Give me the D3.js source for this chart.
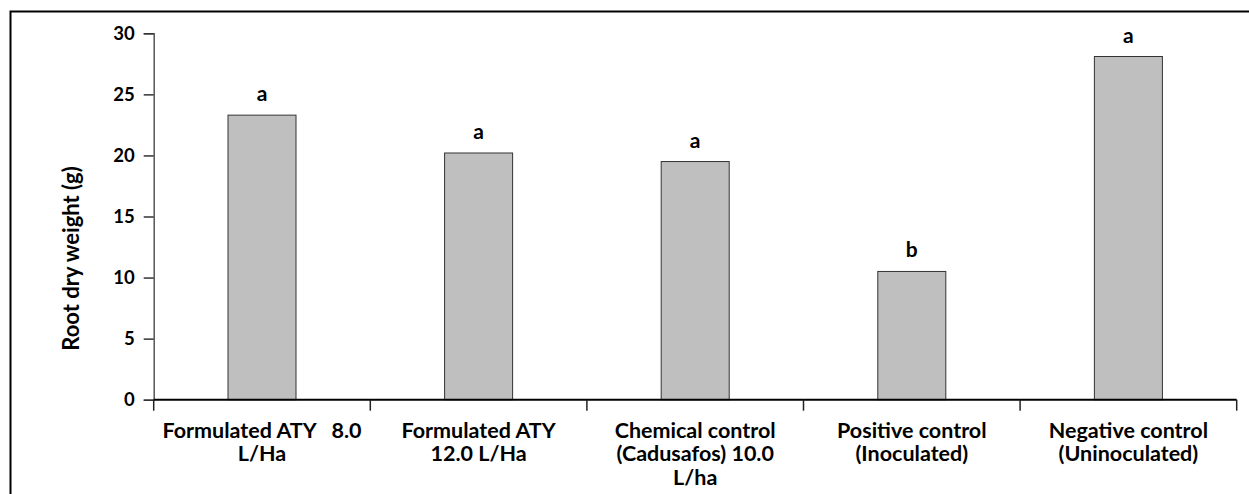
<!DOCTYPE html>
<html>
<head>
<meta charset="utf-8">
<script src="https://cdn.jsdelivr.net/npm/d3@7"></script>
<style>
  body { margin: 0; background: #fff; }
  svg text { font-family: Lato, "Open Sans", sans-serif; font-weight: bold; fill: #000; }
</style>
</head>
<body>
<svg id="chart" width="1249" height="494"></svg>
<script>
// treatments (each label split in lines)
const categories = [
  ["Formulated ATY   8.0", "L/Ha"],
  ["Formulated ATY", "12.0 L/Ha"],
  ["Chemical control", "(Cadusafos) 10.0", "L/ha"],
  ["Positive control", "(Inoculated)"],
  ["Negative control", "(Uninoculated)"]
];
const values = [23.3, 20.2, 19.5, 10.5, 28.1];
const letters = ["a", "a", "a", "b", "a"];
const yTicks = [0, 5, 10, 15, 20, 25, 30];

const svg = d3.select("#chart");

// outer frame (right and bottom sides fall outside the picture)
svg.append("rect")
  .attr("x", 10.5).attr("y", 11.5)
  .attr("width", 1260).attr("height", 500)
  .attr("fill", "none").attr("stroke", "#000").attr("stroke-width", 2);

const plotL = 153.7, plotR = 1236.7, plotT = 33.3, plotB = 399.7;

const x = d3.scaleBand().domain(d3.range(categories.length)).range([plotL, plotR]).paddingInner(0).paddingOuter(0);
const y = d3.scaleLinear().domain([0, 30]).range([plotB, plotT]);

// bars
const barW = x.bandwidth() * 0.314;
svg.selectAll("rect.bar")
  .data(values)
  .enter().append("rect")
  .attr("class", "bar")
  .attr("x", (d, i) => x(i) + x.bandwidth() / 2 - barW / 2)
  .attr("y", d => y(d))
  .attr("width", barW)
  .attr("height", d => y(0) - y(d))
  .attr("fill", "#bfbfbf")
  .attr("stroke", "#333")
  .attr("stroke-width", 1);

// significance letters
svg.selectAll("text.letter")
  .data(values)
  .enter().append("text")
  .attr("class", "letter")
  .attr("x", (d, i) => x(i) + x.bandwidth() / 2)
  .attr("y", d => y(d) - 14)
  .attr("text-anchor", "middle")
  .style("font-size", "21px")
  .text((d, i) => letters[i]);

// y axis
const yAxis = svg.append("g")
  .attr("transform", `translate(${plotL},0)`)
  .call(d3.axisLeft(y).tickValues(yTicks).tickSize(10).tickPadding(9));
yAxis.select(".domain").attr("stroke", "#555").attr("stroke-width", 1.5);
yAxis.selectAll(".tick line").attr("stroke", "#333").attr("stroke-width", 1.5);
yAxis.selectAll(".tick text")
  .style("font-family", "Lato, sans-serif").style("font-size", "18.5px").style("font-weight", "bold");

// x axis: baseline with ticks at band edges
svg.append("line")
  .attr("x1", plotL).attr("x2", plotR)
  .attr("y1", plotB).attr("y2", plotB)
  .attr("stroke", "#000").attr("stroke-width", 2);
const edges = d3.range(categories.length + 1).map(i => i < categories.length ? x(i) : plotR);
svg.selectAll("line.xtick")
  .data(edges)
  .enter().append("line")
  .attr("class", "xtick")
  .attr("x1", d => d).attr("x2", d => d)
  .attr("y1", plotB).attr("y2", plotB + 11)
  .attr("stroke", "#222").attr("stroke-width", 1.5);

// category labels
categories.forEach((lines, i) => {
  const t = svg.append("text")
    .attr("x", x(i) + x.bandwidth() / 2)
    .attr("y", 437.5)
    .attr("text-anchor", "middle")
    .style("font-size", "21.5px")
    .style("white-space", "pre");
  lines.forEach((ln, k) => {
    t.append("tspan")
      .attr("x", x(i) + x.bandwidth() / 2)
      .attr("dy", k === 0 ? 0 : 23.5)
      .text(ln);
  });
});

// y axis title
svg.append("text")
  .attr("transform", "translate(79,258.5) rotate(-90)")
  .attr("text-anchor", "middle")
  .style("font-size", "22px")
  .text("Root dry weight (g)");
</script>
</body>
</html>
